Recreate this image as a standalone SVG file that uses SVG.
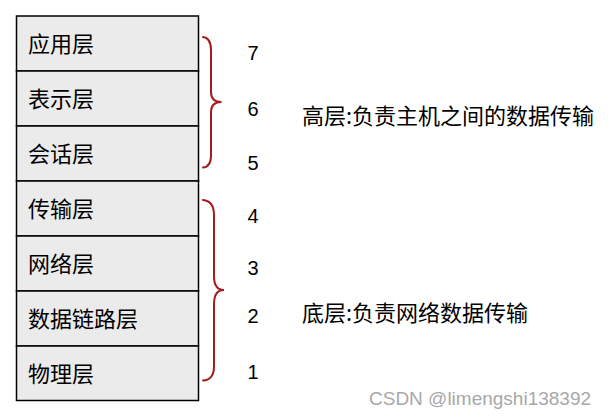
<svg xmlns="http://www.w3.org/2000/svg" width="611" height="420" viewBox="0 0 611 420">
<style>
.box{fill:#EBEBEB;stroke:#000;stroke-width:1.5}
.lbl{font-family:"Noto Sans CJK SC","Liberation Sans",sans-serif;font-size:22px;fill:#000}
.num{font-family:"Liberation Sans",Arial,sans-serif;font-size:20px;fill:#000}
.desc{font-family:"Noto Sans CJK SC","Liberation Sans",sans-serif;font-size:22px;fill:#000}
.brace{fill:none;stroke:#A61B1B;stroke-width:2;stroke-linecap:round}
.wm{font-family:"Liberation Sans",Arial,sans-serif;font-size:19px;fill:#A8A8A8}
</style>
<rect width="611" height="420" fill="#fff"/>
<g id="layer7"><rect class="box" x="16.5" y="16" width="182" height="55"/><text class="lbl" x="28" y="52">应用层</text></g>
<g id="layer6"><rect class="box" x="16.5" y="71" width="182" height="55"/><text class="lbl" x="28" y="107">表示层</text></g>
<g id="layer5"><rect class="box" x="16.5" y="126" width="182" height="55"/><text class="lbl" x="28" y="162">会话层</text></g>
<g id="layer4"><rect class="box" x="16.5" y="181" width="182" height="55"/><text class="lbl" x="28" y="217">传输层</text></g>
<g id="layer3"><rect class="box" x="16.5" y="236" width="182" height="55"/><text class="lbl" x="28" y="272">网络层</text></g>
<g id="layer2"><rect class="box" x="16.5" y="291" width="182" height="55"/><text class="lbl" x="28" y="327">数据链路层</text></g>
<g id="layer1"><rect class="box" x="16.5" y="346" width="182" height="54.5"/><text class="lbl" x="28" y="382">物理层</text></g>
<g id="connectors">
<path class="brace" d="M203,37 Q211,38 211,50 L211,92 Q211,102 221.5,102 Q211,102 211,112 L211,155 Q211,167 203,167.5"/>
<path class="brace" d="M203,200 Q214,201 214,215 L214,276 Q214,290 224,290 Q214,290 214,304 L214,366 Q214,380 203,380.5"/>
</g>
<g id="numbers">
<text class="num" x="247.5" y="60">7</text>
<text class="num" x="247.5" y="116">6</text>
<text class="num" x="247.5" y="170">5</text>
<text class="num" x="247.5" y="223">4</text>
<text class="num" x="247.5" y="275">3</text>
<text class="num" x="247.5" y="323">2</text>
<text class="num" x="247.5" y="379">1</text>
</g>
<g id="desc-high"><text class="desc" x="302" y="124">高层:负责主机之间的数据传输</text></g>
<g id="desc-low"><text class="desc" x="302" y="321">底层:负责网络数据传输</text></g>
<text class="wm" x="369" y="405">CSDN @limengshi138392</text>
</svg>
